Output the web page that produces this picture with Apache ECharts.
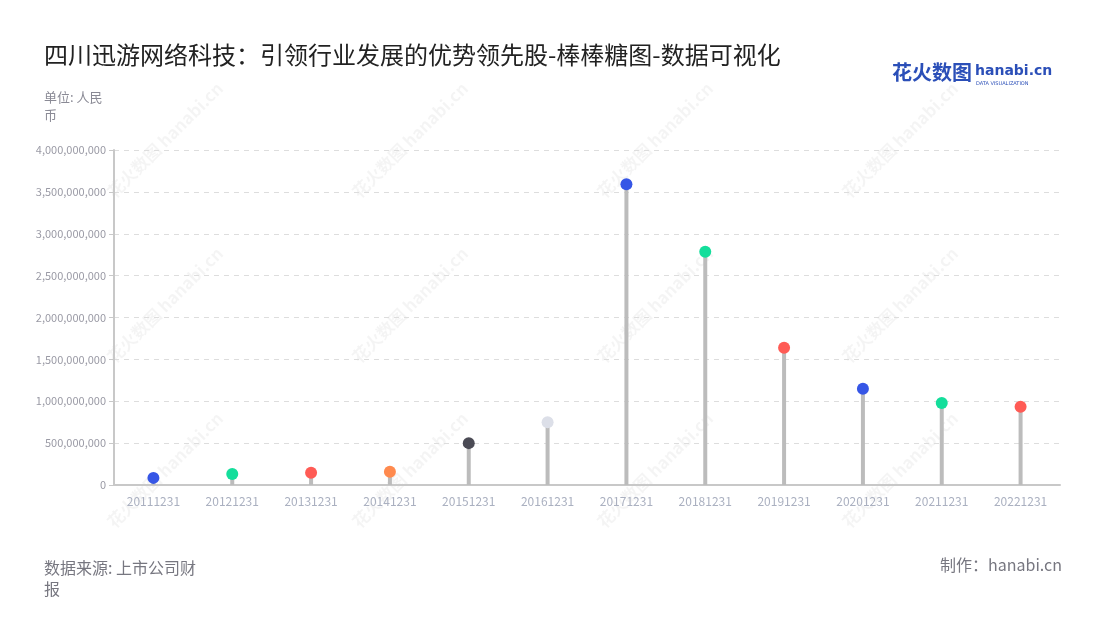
<!DOCTYPE html>
<html><head><meta charset="utf-8">
<script src="https://cdn.jsdelivr.net/npm/echarts@6/dist/echarts.min.js"></script>
<style>html,body{margin:0;padding:0;background:#fff}#c{width:1100px;height:620px}</style>
</head><body><div id="c"></div>
<script>
const categories = ['20111231','20121231','20131231','20141231','20151231','20161231','20171231','20181231','20191231','20201231','20211231','20221231'];
const values = [85000000,130000000,145000000,158000000,500000000,750000000,3590000000,2786000000,1640000000,1150000000,979000000,935000000];
const dotColors = ['#3656E6','#14DE9B','#FF5B55','#FF8A4E','#4B4B55','#DCDFE8','#3656E6','#14DE9B','#FF5B55','#3656E6','#14DE9B','#FF5B55'];
const yTicks = [0,500000000,1000000000,1500000000,2000000000,2500000000,3000000000,3500000000,4000000000];

const chart = echarts.init(document.getElementById('c'), null, {renderer:'canvas'});
const fmt = v => String(v).replace(/\B(?=(\d{3})+(?!\d))/g, ',');

const wm = [];
[165,410,655,900].forEach(x=>{[140,305,470].forEach(y=>{
  wm.push({type:'text', x:x, y:y, rotation:Math.PI/4, z:0, silent:true,
    style:{text:'花火数图 hanabi.cn', fill:'rgba(0,0,0,0.045)', font:'bold 17px "Noto Sans CJK SC"', align:'center', verticalAlign:'middle'}});
});});

chart.setOption({
  backgroundColor:'#fff',
  animation:false,
  title:[
    {text:'四川迅游网络科技：引领行业发展的优势领先股-棒棒糖图-数据可视化', left:39, top:38,
     textStyle:{fontFamily:'Noto Sans CJK SC', fontSize:24, fontWeight:'normal', color:'#222'}},
    {text:'单位: 人民\n币', left:39, top:83,
     textStyle:{fontFamily:'Noto Sans CJK SC', fontSize:13, fontWeight:'normal', color:'#8a8a95', lineHeight:18}},
    {text:'数据来源: 上市公司财\n报', left:39, top:552,
     textStyle:{fontFamily:'Noto Sans CJK SC', fontSize:16, fontWeight:'normal', color:'#777780', lineHeight:21}},
    {text:'制作：hanabi.cn', right:33, top:552,
     textStyle:{fontFamily:'Noto Sans CJK SC', fontSize:16, fontWeight:'normal', color:'#777780'}}
  ],
  graphic:wm.concat([
    {type:'text', left:892, top:62, style:{text:'花火数图', fill:'#2b4fb8', font:'bold 20px "Noto Sans CJK SC"'}},
    {type:'text', left:975, top:64, style:{text:'hanabi.cn', fill:'#2b4fb8', font:'bold 14px "DejaVu Sans"'}},
    {type:'text', left:976, top:81, style:{text:'DATA VISUALIZATION', fill:'#2b4fb8', font:'5px "DejaVu Sans"'}}
  ]),
  grid:{left:114, right:40, top:150, bottom:135},
  xAxis:{type:'category', data:categories, boundaryGap:true,
    axisLine:{lineStyle:{color:'#c8c8c8', width:2}},
    axisTick:{alignWithLabel:true, lineStyle:{color:'#c8c8c8'}},
    axisLabel:{color:'#aab0c0', fontSize:12, margin:10, fontFamily:'Noto Sans CJK SC'}},
  yAxis:{type:'value', min:0, max:yTicks[yTicks.length-1], interval:yTicks[1],
    axisLine:{show:true, lineStyle:{color:'#c8c8c8', width:2}},
    axisTick:{show:true, lineStyle:{color:'#c8c8c8'}},
    axisLabel:{color:'#9a9aa5', fontSize:11, formatter:fmt, fontFamily:'Noto Sans CJK SC'},
    splitLine:{lineStyle:{color:'#dddddd', type:[5,5]}}},
  series:[
    {type:'bar', data:values, barWidth:4, itemStyle:{color:'#bcbcbc'}, z:2},
    {type:'scatter', data:values.map((v,i)=>({value:v, itemStyle:{color:dotColors[i], opacity:1}})), symbolSize:12, z:3}
  ]
});
</script></body></html>
